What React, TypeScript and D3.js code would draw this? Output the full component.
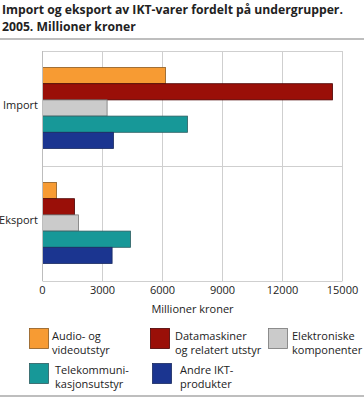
import { useEffect, useRef } from "react"
import * as d3 from "d3"

// Categories and series (millioner kroner, 2005)
const groups = ["Import", "Eksport"]
const series = [
  "Audio- og videoutstyr",
  "Datamaskiner og relatert utstyr",
  "Elektroniske komponenter",
  "Telekommunikasjonsutstyr",
  "Andre IKT-produkter",
]
const importValues = [6150, 14500, 3230, 7250, 3550]
const eksportValues = [700, 1600, 1800, 4400, 3480]
const ticks = [0, 3000, 6000, 9000, 12000, 15000]
const legendLines = [
  ["Audio- og", "videoutstyr"],
  ["Datamaskiner", "og relatert utstyr"],
  ["Elektroniske", "komponenter"],
  ["Telekommuni-", "kasjonsutstyr"],
  ["Andre IKT-", "produkter"],
]
const colors = ["#f79b33", "#9a0f08", "#cbcbcb", "#179898", "#1b3590"]
const strokes = ["#8a5a20", "#4a0000", "#777777", "#2c5c60", "#1a2a60"]

const W = 364
const H = 397
const FONT = "'Open Sans', 'DejaVu Sans', sans-serif"

const App = () => {
  const svgRef = useRef<SVGSVGElement>(null)

  useEffect(() => {
    if (!svgRef.current) return
    const svg = d3.select(svgRef.current)
    svg.selectAll("*").remove()

    const x = d3.scaleLinear().domain([0, 15000]).range([42.5, 342.5])
    const y = d3.scaleBand().domain(groups).range([51, 281])
    const inner = d3.scaleBand().domain(series).range([16, 97])

    // title
    const title = svg.append("g").attr("font-family", FONT).attr("font-weight", "bold").attr("font-size", 12.2).attr("fill", "#222")
    title.append("text").attr("x", 2).attr("y", 14).text("Import og eksport av IKT-varer fordelt på undergrupper.")
    title.append("text").attr("x", 2).attr("y", 31).text("2005. Millioner kroner")

    svg.append("line").attr("x1", 0).attr("x2", W).attr("y1", 39).attr("y2", 39).attr("stroke", "#a8a8a8").attr("stroke-width", 1.5)
    svg.append("line").attr("x1", 0).attr("x2", W).attr("y1", 396).attr("y2", 396).attr("stroke", "#a8a8a8").attr("stroke-width", 1.5)

    // grid
    svg.append("g")
      .selectAll("line")
      .data(ticks)
      .join("line")
      .attr("x1", (d) => x(d))
      .attr("x2", (d) => x(d))
      .attr("y1", 51)
      .attr("y2", 281)
      .attr("stroke", "#cfcfcf")
    svg.append("g")
      .selectAll("line")
      .data([51, 166, 281])
      .join("line")
      .attr("x1", 42.5)
      .attr("x2", 342.5)
      .attr("y1", (d) => d + 0.5)
      .attr("y2", (d) => d + 0.5)
      .attr("stroke", "#cfcfcf")

    // bars
    const data = [importValues, eksportValues]
    groups.forEach((g, gi) => {
      svg.append("g")
        .selectAll("rect")
        .data(data[gi])
        .join("rect")
        .attr("x", x(0))
        .attr("y", (_, i) => (y(g) ?? 0) + (inner(series[i]) ?? 0) + 0.5)
        .attr("width", (d) => x(d) - x(0))
        .attr("height", inner.bandwidth())
        .attr("fill", (_, i) => colors[i])
        .attr("stroke", (_, i) => strokes[i])
        .attr("stroke-width", 0.8)
    })
    svg.append("line").attr("x1", 42.5).attr("x2", 42.5).attr("y1", 51).attr("y2", 281).attr("stroke", "#bdbdbd")

    // category labels
    svg.append("g")
      .selectAll("text")
      .data(groups)
      .join("text")
      .attr("x", 38)
      .attr("y", (d) => (y(d) ?? 0) + 58)
      .attr("text-anchor", "end")
      .attr("font-family", FONT)
      .attr("font-size", 11)
      .attr("fill", "#222")
      .text((d) => d)

    // tick labels
    svg.append("g")
      .selectAll("text")
      .data(ticks)
      .join("text")
      .attr("x", (d) => x(d))
      .attr("y", 294)
      .attr("text-anchor", "middle")
      .attr("font-family", FONT)
      .attr("font-size", 11)
      .attr("fill", "#222")
      .text((d) => String(d))

    svg.append("text")
      .attr("x", 192.5)
      .attr("y", 313)
      .attr("text-anchor", "middle")
      .attr("font-family", FONT)
      .attr("font-size", 11)
      .attr("fill", "#222")
      .text("Millioner kroner")

    // legend
    const legendPos = [
      { bx: 29, by: 328, tx: 52, ty: 340 },
      { bx: 150, by: 328, tx: 175, ty: 340 },
      { bx: 268, by: 328, tx: 292, ty: 340 },
      { bx: 29, by: 363, tx: 55, ty: 374 },
      { bx: 152, by: 363, tx: 180, ty: 374 },
    ]
    const leg = svg.append("g").selectAll("g").data(series).join("g")
    leg.append("rect")
      .attr("x", (_, i) => legendPos[i].bx + 0.5)
      .attr("y", (_, i) => legendPos[i].by + 0.5)
      .attr("width", 19)
      .attr("height", 20)
      .attr("fill", (_, i) => colors[i])
      .attr("stroke", (_, i) => strokes[i])
      .attr("stroke-width", 0.8)
    leg.each(function (_, i) {
      const t = d3.select(this)
        .append("text")
        .attr("font-family", FONT)
        .attr("font-size", 11)
        .attr("fill", "#222")
      legendLines[i].forEach((line, li) => {
        t.append("tspan").attr("x", legendPos[i].tx).attr("y", legendPos[i].ty + li * 13.5).text(line)
      })
    })
  }, [])

  return (
    <svg
      ref={svgRef}
      width={W}
      height={H}
      style={{ position: "absolute", left: 0, top: 0, display: "block", background: "#fff" }}
    />
  )
}

export default App
